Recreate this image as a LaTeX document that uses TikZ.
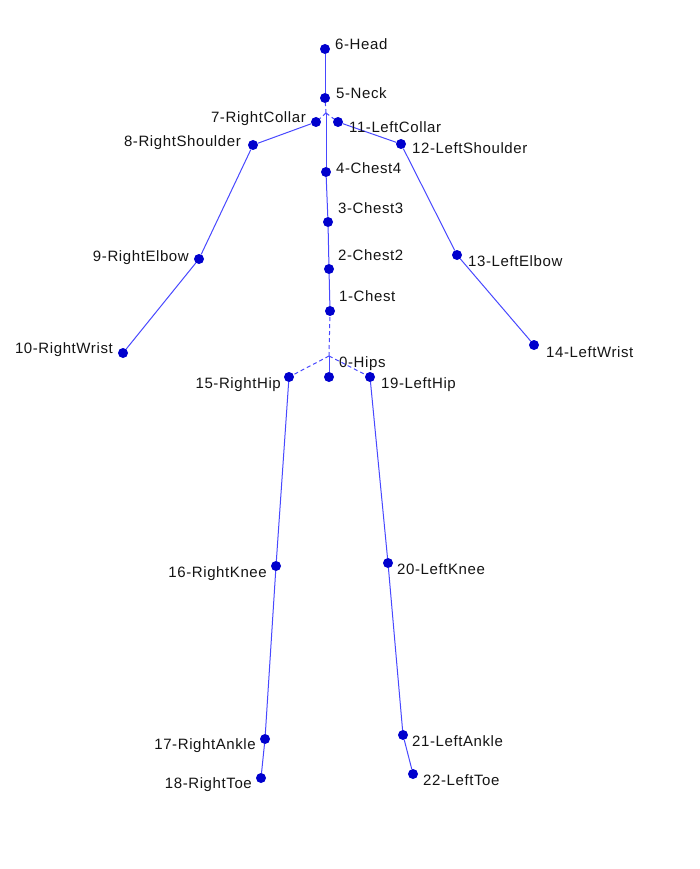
\documentclass[tikz,border=0pt]{standalone}
\usepackage{fontspec}
\setmainfont{Liberation Sans}
\usepackage{tikz}
\definecolor{bonecol}{RGB}{72,72,255}
\definecolor{jointcol}{RGB}{0,0,205}
\definecolor{txtcol}{RGB}{20,20,20}
\tikzset{
  px/.style={x=1pt, y=-1pt},
  bone/.style={bonecol, line width=1pt},                       % solid segment
  offs/.style={bonecol, line width=1pt, dash pattern=on 4pt off 3pt}, % offset to a child joint
  joint/.style={circle, fill=jointcol, draw=none, inner sep=0pt, minimum size=10pt},
  lblr/.style={anchor=base west, inner sep=0pt, txtcol,
    font=\fontsize{15}{17}\selectfont\addfontfeatures{LetterSpace=4}},
  lbll/.style={lblr, anchor=base east},
}

\begin{document}
\begin{tikzpicture}[px]
  \useasboundingbox (0,0) rectangle (700,869);

  % --- joints (spine and head) ---
  \node[joint] (hips)   at (329,377) {};
  \node[joint] (chest)  at (330,311) {};
  \node[joint] (chest2) at (329,269) {};
  \node[joint] (chest3) at (328,222) {};
  \node[joint] (chest4) at (326,172) {};
  \node[joint] (neck)   at (325,98)  {};
  \node[joint] (head)   at (325,49)  {};
  % --- joints (arms) ---
  \node[joint] (rcollar)   at (316,122) {};
  \node[joint] (rshoulder) at (253,145) {};
  \node[joint] (relbow)    at (199,259) {};
  \node[joint] (rwrist)    at (123,353) {};
  \node[joint] (lcollar)   at (338,122) {};
  \node[joint] (lshoulder) at (401,144) {};
  \node[joint] (lelbow)    at (457,255) {};
  \node[joint] (lwrist)    at (534,345) {};
  % --- joints (legs) ---
  \node[joint] (rhip)   at (289,377) {};
  \node[joint] (rknee)  at (276,566) {};
  \node[joint] (rankle) at (265,739) {};
  \node[joint] (rtoe)   at (261,778) {};
  \node[joint] (lhip)   at (370,377) {};
  \node[joint] (lknee)  at (388,563) {};
  \node[joint] (lankle) at (403,735) {};
  \node[joint] (ltoe)   at (413,774) {};

  % branch points of the offsets
  \coordinate (hipsend)   at (329,356);
  \coordinate (chest4end) at (326,113);

  % --- bones ---
  \draw[bone] (hips)--(hipsend);
  \draw[offs] (hipsend)--(chest);
  \draw[offs] (hipsend)--(rhip);
  \draw[offs] (hipsend)--(lhip);
  \draw[bone] (chest)--(chest2)--(chest3)--(chest4);
  \draw[bone] (chest4)--(chest4end);
  \draw[offs] (chest4end)--(neck);
  \draw[offs] (chest4end)--(rcollar);
  \draw[offs] (chest4end)--(lcollar);
  \draw[bone] (neck)--(head);
  \draw[bone] (rcollar)--(rshoulder)--(relbow)--(rwrist);
  \draw[bone] (lcollar)--(lshoulder)--(lelbow)--(lwrist);
  \draw[bone] (rhip)--(rknee)--(rankle)--(rtoe);
  \draw[bone] (lhip)--(lknee)--(lankle)--(ltoe);

  % --- joint labels ---
  \node[lblr] (headlbl)      at (335,50)  {6-Head};
  \node[lblr] (necklbl)      at (336,99)  {5-Neck};
  \node[lbll] (rcollarlbl)   at (306,123) {7-RightCollar};
  \node[lblr] (lcollarlbl)   at (349,133) {11-LeftCollar};
  \node[lbll] (rshoulderlbl) at (241,147) {8-RightShoulder};
  \node[lblr] (lshoulderlbl) at (412,154) {12-LeftShoulder};
  \node[lblr] (chest4lbl)    at (336,173) {4-Chest4};
  \node[lblr] (chest3lbl)    at (338,213) {3-Chest3};
  \node[lblr] (chest2lbl)    at (338,260) {2-Chest2};
  \node[lblr] (chestlbl)     at (339,301) {1-Chest};
  \node[lbll] (relbowlbl)    at (189,261) {9-RightElbow};
  \node[lblr] (lelbowlbl)    at (468,266) {13-LeftElbow};
  \node[lbll] (rwristlbl)    at (113,353) {10-RightWrist};
  \node[lblr] (lwristlbl)    at (546,357) {14-LeftWrist};
  \node[lblr] (hipslbl)      at (339,367) {0-Hips};
  \node[lbll] (rhiplbl)      at (281,388) {15-RightHip};
  \node[lblr] (lhiplbl)      at (381,388) {19-LeftHip};
  \node[lbll] (rkneelbl)     at (267,577) {16-RightKnee};
  \node[lblr] (lkneelbl)     at (397,574) {20-LeftKnee};
  \node[lbll] (ranklelbl)    at (256,749) {17-RightAnkle};
  \node[lblr] (lanklelbl)    at (412,746) {21-LeftAnkle};
  \node[lbll] (rtoelbl)      at (252,788) {18-RightToe};
  \node[lblr] (ltoelbl)      at (423,785) {22-LeftToe};
\end{tikzpicture}
\end{document}
